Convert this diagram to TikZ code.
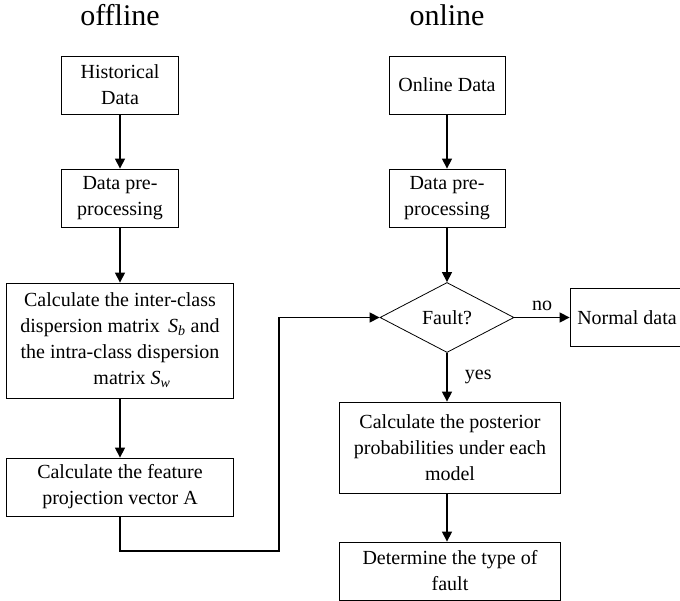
\documentclass[tikz,border=0pt]{standalone}
\usepackage{fontspec}
\setmainfont{Liberation Serif}
\usetikzlibrary{shapes.geometric,arrows.meta}
\tikzset{
	stepbox/.style={draw, line width=0.8pt, align=center, inner sep=0pt},
	decision/.style={draw, diamond, line width=0.8pt, inner sep=0pt, minimum width=134pt, minimum height=70pt},
	flow/.style={line width=1.3pt, -{Triangle[length=10pt,width=10pt]}},
}
\newcommand{\mtx}[1]{\textit{S}\textsubscript{\textit{#1}}}
\begin{document}
\begin{tikzpicture}[x=1pt, y=-1pt, font=\fontsize{20}{26}\selectfont]
		\useasboundingbox (0, 0) rectangle (680, 601);
		% titles
		\node[font=\fontsize{30}{36}\selectfont] (offtitle) at (120, 15) {offline};
		\node[font=\fontsize{30}{36}\selectfont] (ontitle) at (447, 15) {online};
		% offline branch
		\node[stepbox, minimum width=117pt, minimum height=58pt] (histdata) at (120, 85) {Historical\\Data};
		\node[stepbox, minimum width=117pt, minimum height=58pt] (offpre) at (120, 198) {Data pre-\\processing};
		\node[stepbox, minimum width=227pt, minimum height=115pt] (scatter) at (120, 340.5) {Calculate the inter-class\\dispersion matrix \,\mtx{b} and\\the intra-class dispersion\\\hspace{1.2em}matrix \mtx{w}};
		\node[stepbox, minimum width=227pt, minimum height=58pt] (projvec) at (120, 487) {Calculate the feature\\projection vector A};
		% online branch
		\node[stepbox, minimum width=116pt, minimum height=58pt] (ondata) at (447, 85) {Online Data};
		\node[stepbox, minimum width=116pt, minimum height=58pt] (onpre) at (447, 198) {Data pre-\\processing};
		\node[decision] (fault) at (447, 317.5) {Fault?};
		\node[stepbox, minimum width=114pt, minimum height=58pt] (normal) at (627, 317.5) {Normal data};
		\node[stepbox, minimum width=221pt, minimum height=91pt] (posterior) at (450, 447.5) {Calculate the posterior\\probabilities under each\\model};
		\node[stepbox, minimum width=221pt, minimum height=58pt] (faulttype) at (450, 571) {Determine the type of\\fault};
		% connectors
		\coordinate (bendlow) at (120, 551);
		\coordinate (bendright) at (279, 551);
		\coordinate (bendup) at (279, 317.5);
		\path[draw, flow] (histdata) -- (offpre);
		\path[draw, flow] (offpre) -- (scatter);
		\path[draw, flow] (scatter) -- (projvec);
		\path[draw, flow] (projvec.south) -- (bendlow) -- (bendright) -- (bendup) -- (fault.west);
		\path[draw, flow] (ondata) -- (onpre);
		\path[draw, flow] (onpre) -- (fault);
		\path[draw, flow] (fault.east) -- (normal.west) node[midway, above=3pt] (nolabel) {no};
		\path[draw, flow] (fault.south) -- (fault.south |- posterior.north) node[midway, right=14pt] (yeslabel) {yes};
		\path[draw, flow] (fault.south |- posterior.south) -- (fault.south |- faulttype.north);
	\end{tikzpicture}
\end{document}
